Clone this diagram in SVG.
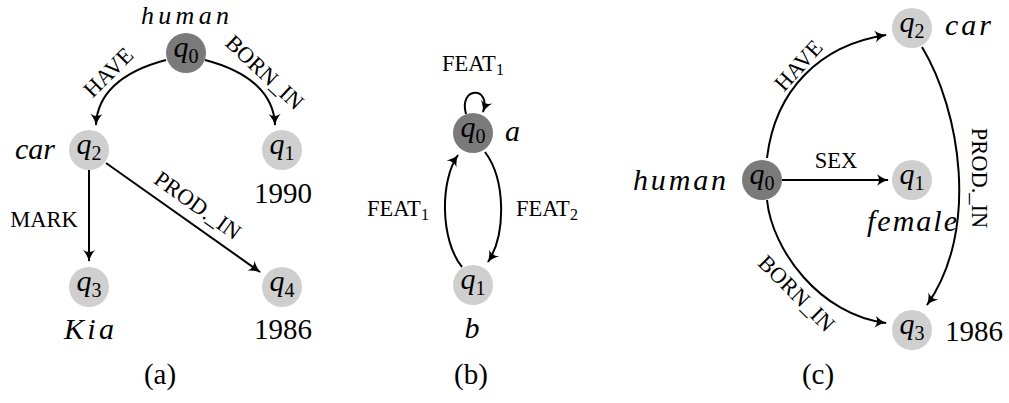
<svg xmlns="http://www.w3.org/2000/svg" width="1009" height="403" viewBox="0 0 1009 403">
<style>
.dark{fill:#7a7a7a}
.light{fill:#cfcfcf}
.q{font-family:"Liberation Serif",serif;font-size:30px;font-style:italic;fill:#000}
.sub{font-style:normal;font-size:20px}
.m{font-family:"Liberation Serif",serif;font-size:30px;font-style:italic;fill:#000}
.r{font-family:"Liberation Serif",serif;font-size:29px;fill:#000}
.lbl{font-family:"Liberation Serif",serif;font-size:22.5px;fill:#000}
.lsub{font-size:16px}
.e{fill:none;stroke:#000;stroke-width:2}
</style>
<defs>
<marker id="ah" viewBox="-12 -7 14 14" refX="0" refY="0" markerWidth="14" markerHeight="14" markerUnits="userSpaceOnUse" orient="auto">
<path d="M-11,-6 Q-5,-1 1,0 Q-5,1 -11,6 Q-7,0 -11,-6Z" fill="#000"/>
</marker>
</defs>

<g id="connectors">
<path class="e" d="M166,60 C120,72 97,95 96,125" marker-end="url(#ah)"/>
<path class="e" d="M205,60 C251,72 274,95 275,125" marker-end="url(#ah)"/>
<path class="e" d="M89,170 L89,261" marker-end="url(#ah)"/>
<path class="e" d="M106,163 L260,272" marker-end="url(#ah)"/>
<path class="e" d="M466,114 C458,86 492,86 483,112" marker-end="url(#ah)"/>
<path class="e" d="M462,267 C440,240 440,180 458,155" marker-end="url(#ah)"/>
<path class="e" d="M485,152 C506,180 506,235 488,262" marker-end="url(#ah)"/>
<path class="e" d="M767,158 C775,90 820,45 886,35" marker-end="url(#ah)"/>
<path class="e" d="M782,180 L888,180" marker-end="url(#ah)"/>
<path class="e" d="M922,47 C960,110 980,230 927,305" marker-end="url(#ah)"/>
<path class="e" d="M767,200 C772,250 820,315 886,323" marker-end="url(#ah)"/>
</g>

<g id="edge-labels">
<text class="lbl" text-anchor="middle" transform="translate(108,72) rotate(-45)" x="0" y="8">HAVE</text>
<text class="lbl" text-anchor="middle" transform="translate(265,72) rotate(43)" x="0" y="8">BORN_IN</text>
<text class="lbl" text-anchor="middle" x="44" y="227">MARK</text>
<text class="lbl" text-anchor="middle" transform="translate(198,205) rotate(35.5)" x="0" y="8">PROD._IN</text>
<text class="lbl" text-anchor="middle" x="473" y="71">FEAT<tspan class="lsub" dy="4">1</tspan></text>
<text class="lbl" text-anchor="middle" x="398" y="216">FEAT<tspan class="lsub" dy="4">1</tspan></text>
<text class="lbl" text-anchor="middle" x="547" y="216">FEAT<tspan class="lsub" dy="4">2</tspan></text>
<text class="lbl" text-anchor="middle" transform="translate(798,65) rotate(-48)" x="0" y="8">HAVE</text>
<text class="lbl" text-anchor="middle" x="836" y="168">SEX</text>
<text class="lbl" text-anchor="middle" transform="translate(980,178) rotate(90)" x="0" y="8">PROD._IN</text>
<text class="lbl" text-anchor="middle" transform="translate(797,293) rotate(45)" x="0" y="8">BORN_IN</text>
</g>

<g id="a-q0"><circle class="dark" cx="186" cy="53" r="20"/><text class="q" text-anchor="middle" x="186" y="57">q<tspan class="sub" dy="6">0</tspan></text><text class="m" text-anchor="middle" x="185" y="24" style="font-size:26px" textLength="88" lengthAdjust="spacing">human</text></g>
<g id="a-q2"><circle class="light" cx="89" cy="150" r="20"/><text class="q" text-anchor="middle" x="89" y="154">q<tspan class="sub" dy="6">2</tspan></text><text class="m" x="15" y="159" textLength="40" lengthAdjust="spacing">car</text></g>
<g id="a-q1"><circle class="light" cx="282" cy="150" r="20"/><text class="q" text-anchor="middle" x="282" y="154">q<tspan class="sub" dy="6">1</tspan></text><text class="r" text-anchor="middle" x="283" y="203">1990</text></g>
<g id="a-q3"><circle class="light" cx="89" cy="287" r="20"/><text class="q" text-anchor="middle" x="89" y="291">q<tspan class="sub" dy="6">3</tspan></text><text class="m" text-anchor="middle" x="89" y="339" textLength="50" lengthAdjust="spacing">Kia</text></g>
<g id="a-q4"><circle class="light" cx="282" cy="287" r="20"/><text class="q" text-anchor="middle" x="282" y="291">q<tspan class="sub" dy="6">4</tspan></text><text class="r" text-anchor="middle" x="283" y="339">1986</text></g>
<text class="r" text-anchor="middle" x="160" y="384">(a)</text>

<g id="b-q0"><circle class="dark" cx="473" cy="133" r="20"/><text class="q" text-anchor="middle" x="473" y="137">q<tspan class="sub" dy="6">0</tspan></text><text class="m" x="505" y="141">a</text></g>
<g id="b-q1"><circle class="light" cx="473" cy="285" r="20"/><text class="q" text-anchor="middle" x="473" y="289">q<tspan class="sub" dy="6">1</tspan></text><text class="m" text-anchor="middle" x="472" y="338">b</text></g>
<text class="r" text-anchor="middle" x="471" y="384">(b)</text>

<g id="c-q0"><circle class="dark" cx="762" cy="180" r="20"/><text class="q" text-anchor="middle" x="762" y="184">q<tspan class="sub" dy="6">0</tspan></text><text class="m" x="633" y="190" textLength="93" lengthAdjust="spacing">human</text></g>
<g id="c-q2"><circle class="light" cx="912" cy="28" r="20"/><text class="q" text-anchor="middle" x="912" y="32">q<tspan class="sub" dy="6">2</tspan></text><text class="m" x="945" y="35" textLength="46" lengthAdjust="spacing">car</text></g>
<g id="c-q1"><circle class="light" cx="912" cy="180" r="20"/><text class="q" text-anchor="middle" x="912" y="184">q<tspan class="sub" dy="6">1</tspan></text><text class="m" x="867" y="231" textLength="90" lengthAdjust="spacing">female</text></g>
<g id="c-q3"><circle class="light" cx="912" cy="330" r="20"/><text class="q" text-anchor="middle" x="912" y="334">q<tspan class="sub" dy="6">3</tspan></text><text class="r" x="945" y="341">1986</text></g>
<text class="r" text-anchor="middle" x="818" y="384">(c)</text>
</svg>
